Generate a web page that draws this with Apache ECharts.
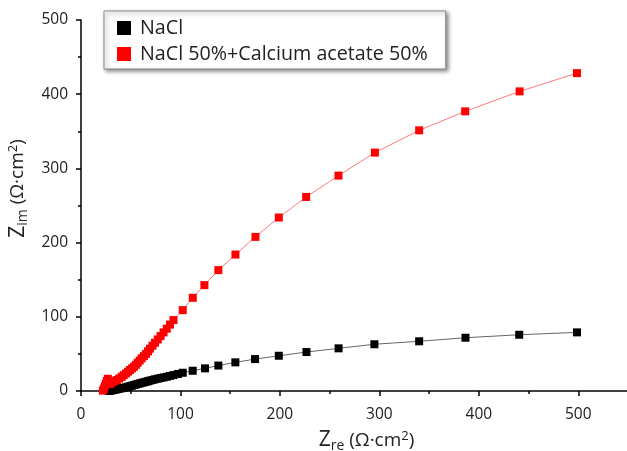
<!DOCTYPE html>
<html><head><meta charset="utf-8">
<script src="https://cdn.jsdelivr.net/npm/echarts@6/dist/echarts.min.js"></script>
<style>html,body{margin:0;padding:0;background:#fff}#c{width:627px;height:451px}</style>
</head><body><div id="c"></div>
<script>
const seriesNames = ['NaCl', 'NaCl 50%+Calcium acetate 50%'];
const naclRe = [28, 29.5, 31, 33, 35, 37, 39, 41, 43, 45.3, 47.3, 49.3, 51.3, 53.3, 55.2, 57, 59, 61, 63.2, 65.4, 67.4, 69.4, 71.9, 74.4, 77.2, 80, 83, 86.2, 89.5, 93, 97.5, 102.3, 112.3, 124.7, 138.1, 155.2, 175, 198.9, 226.7, 259, 295, 340, 386.6, 440.6, 498.7];
const naclIm = [0, 0.4, 0.9, 1.4, 2, 2.7, 3.2, 3.8, 4.4, 5, 5.8, 6.5, 7.2, 8, 8.7, 9.5, 10.2, 11, 11.7, 12.5, 13.2, 14, 14.9, 15.8, 16.6, 17.5, 18.3, 19.2, 20.3, 21.5, 23, 24.6, 27.3, 30.5, 34.3, 38.6, 43, 47.5, 52.5, 57.5, 63, 67, 71.8, 75.8, 79];
const mixRe = [22, 23, 24, 25, 26, 27, 28.5, 30, 31.5, 33.5, 36, 38.5, 41, 43, 45.3, 47.3, 49.3, 51.3, 53.3, 55.2, 57, 59, 61, 63.2, 65.4, 67.4, 69.4, 71.9, 74.4, 77.2, 80, 83, 86.2, 89.5, 93, 102.3, 112.4, 124.1, 138.1, 155.3, 175.4, 198.9, 226.4, 258.9, 295.5, 340, 386.3, 441, 498.7];
const mixIm = [0.5, 3, 6.5, 10, 13.5, 16.5, 9.5, 10.3, 11.8, 13.3, 14.8, 17, 19.2, 21.4, 23.7, 26, 28.3, 30.5, 32.7, 35.3, 38, 41, 44, 47, 50, 53.5, 57, 61, 65, 69.5, 74, 79, 84, 89.5, 95.6, 109, 125.6, 142.7, 162.9, 183.9, 207.7, 233.8, 261.5, 290.3, 321.3, 351.3, 376.9, 403.8, 428.4];
const xTicks = {min: 0, max: 550, step: 100};
const yTicks = {min: 0, max: 500, step: 100};

const zip = (a, b) => a.map((v, i) => [v, b[i]]);
const chart = echarts.init(document.getElementById('c'), null, {renderer: 'canvas'});
const font = "'Open Sans', 'Noto Sans', sans-serif";
const axisLine = {lineStyle: {color: '#000', width: 1.5}};
const nameRich = {
  z: {fontSize: 21, fontFamily: font, color: '#222'},
  s: {fontSize: 14, fontFamily: font, color: '#222', padding: [11, 0, 0, 0]},
  t: {fontSize: 19, fontFamily: font, color: '#222'},
  p: {fontSize: 13, fontFamily: font, color: '#222', padding: [0, 0, 9, 0]}
};
chart.setOption({
  animation: false,
  backgroundColor: '#fff',
  grid: {left: 81, right: -1, top: 20, bottom: 60, containLabel: false, outerBoundsMode: 'none'},
  legend: {
    left: 104, top: 11, orient: 'vertical', itemGap: 6,
    itemWidth: 14, itemHeight: 14, icon: 'rect',
    padding: [7, 18, 5, 13],
    backgroundColor: '#fff', borderColor: '#888', borderWidth: 1,
    shadowColor: 'rgba(0,0,0,0.45)', shadowBlur: 4, shadowOffsetX: 2, shadowOffsetY: 2,
    textStyle: {fontSize: 19.7, lineHeight: 20, fontFamily: font, color: '#222', padding: [0, 0, 0, 4]},
    data: seriesNames
  },
  xAxis: {
    type: 'value', min: xTicks.min, max: xTicks.max, interval: xTicks.step,
    axisLine: axisLine, splitLine: {show: false},
    axisTick: {length: 5, lineStyle: {color: '#000', width: 1.5}},
    minorTick: {show: true, splitNumber: 2, length: 3, lineStyle: {color: '#000', width: 1.5}},
    axisLabel: {fontSize: 15.5, fontFamily: font, color: '#222', margin: 16, showMaxLabel: false},
    name: '{z|Z}{s|re}{t| (Ω·cm}{p|2}{t|)}', nameLocation: 'middle', nameGap: 37,
    nameTextStyle: {rich: nameRich, padding: [0, 0, 0, 24]}
  },
  yAxis: {
    type: 'value', min: yTicks.min, max: yTicks.max, interval: yTicks.step,
    axisLine: axisLine, splitLine: {show: false},
    axisTick: {length: 5, lineStyle: {color: '#000', width: 1.5}},
    minorTick: {show: true, splitNumber: 2, length: 3, lineStyle: {color: '#000', width: 1.5}},
    axisLabel: {fontSize: 15.5, fontFamily: font, color: '#222', margin: 13},
    name: '{z|Z}{s|im}{t| (Ω·cm}{p|2}{t|)}', nameLocation: 'middle', nameGap: 42, nameRotate: 90,
    nameTextStyle: {rich: nameRich, padding: [0, 0, 0, 34]}
  },
  series: [
    {name: seriesNames[0], type: 'line', data: zip(naclRe, naclIm), symbol: 'rect', symbolSize: 8,
     itemStyle: {color: '#000'}, lineStyle: {color: '#666', width: 1}, z: 3},
    {name: seriesNames[1], type: 'line', data: zip(mixRe, mixIm), symbol: 'rect', symbolSize: 8,
     itemStyle: {color: '#ff0000'}, lineStyle: {color: '#ff7a7a', width: 1}, z: 4}
  ]
});
</script></body></html>
